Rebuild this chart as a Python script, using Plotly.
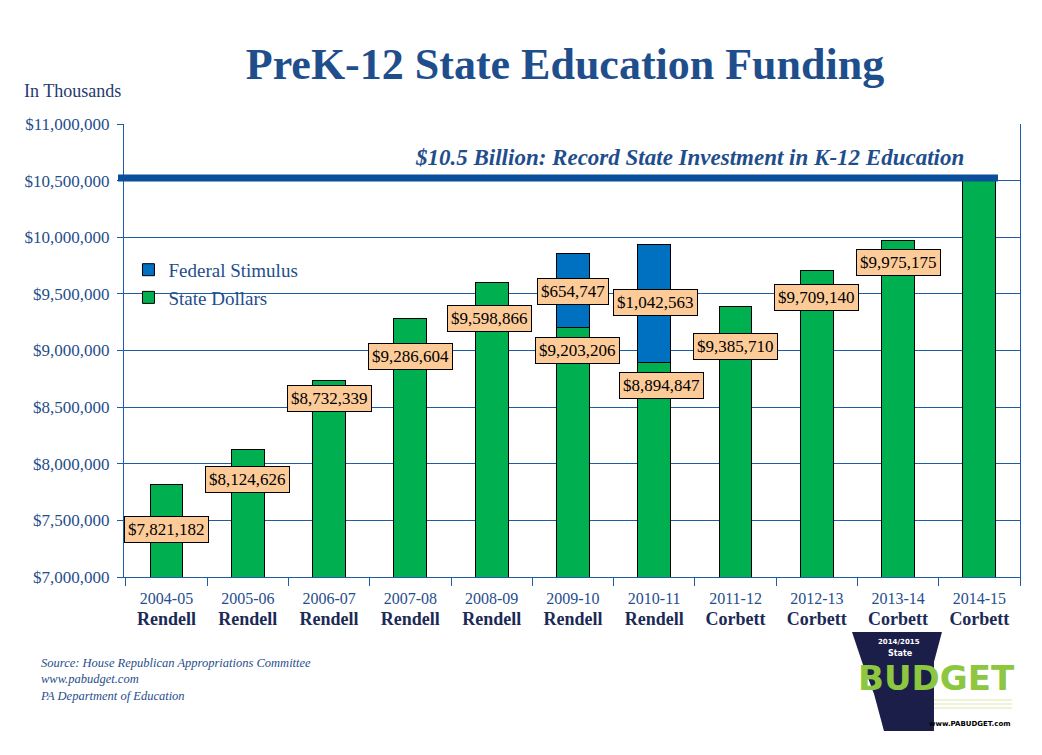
import plotly.graph_objects as go

# ---- data ----
years = ["2004-05", "2005-06", "2006-07", "2007-08", "2008-09", "2009-10",
         "2010-11", "2011-12", "2012-13", "2013-14", "2014-15"]
governors = ["Rendell", "Rendell", "Rendell", "Rendell", "Rendell", "Rendell",
             "Rendell", "Corbett", "Corbett", "Corbett", "Corbett"]
state_dollars = [7821182, 8124626, 8732339, 9286604, 9598866, 9203206,
                 8894847, 9385710, 9709140, 9975175, 10520000]
federal_stimulus = [0, 0, 0, 0, 0, 654747, 1042563, 0, 0, 0, 0]
record_level = 10523000

# label placement (layout only): offset below bar top, x pixel shifts
state_label_drop = [406000, 260000, 152000, 337000, 319000, 199000,
                    200000, 346000, 245000, 195000, None]
state_label_xshift = [0, 0, 0, 0, -2, 5, 7, 0, 0, 0, 0]
fed_label_drop = [None, None, None, None, None, 333000, 517000, None, None, None, None]
fed_label_xshift = [0, 0, 0, 0, 0, 0, 1, 0, 0, 0, 0]

SERIF = "Liberation Serif"
BLUE_TXT = "#1F4E8C"
NAVY = "#1B2A55"
GRID = "#1F5CA8"

# page has an 8px body margin; figure sized so it fills the 1042x755 window
W, H = 1034, 747

fig = go.Figure()
fig.add_trace(go.Bar(x=years, y=state_dollars, name="State Dollars", legendgroup="s",
                     marker=dict(color="#00B050", line=dict(color="black", width=1))))
fig.add_trace(go.Bar(x=years, y=federal_stimulus, name="Federal Stimulus", legendgroup="f",
                     marker=dict(color="#0070C0", line=dict(color="black", width=1))))


def fmt(v):
    return "${:,}".format(v)


annotations = []
for i, yr in enumerate(years):
    if state_label_drop[i] is not None:
        annotations.append(dict(
            x=yr, y=state_dollars[i] - state_label_drop[i], xref="x", yref="y",
            text=fmt(state_dollars[i]), showarrow=False, xshift=state_label_xshift[i],
            font=dict(family=SERIF, size=17, color="black"),
            bgcolor="#FCCB98", bordercolor="black", borderwidth=1, borderpad=3))
    if fed_label_drop[i] is not None:
        top = state_dollars[i] + federal_stimulus[i]
        annotations.append(dict(
            x=yr, y=top - fed_label_drop[i], xref="x", yref="y",
            text=fmt(federal_stimulus[i]), showarrow=False, xshift=fed_label_xshift[i],
            font=dict(family=SERIF, size=17, color="black"),
            bgcolor="#FCCB98", bordercolor="black", borderwidth=1, borderpad=3))

# record text
annotations.append(dict(
    x=0.6306, y=record_level, xref="paper", yref="y", yshift=21,
    xanchor="center", yanchor="middle",
    text="<i><b>$10.5 Billion: Record State Investment in K-12 Education</b></i>",
    showarrow=False, font=dict(family=SERIF, size=23, color=BLUE_TXT)))

# In Thousands
annotations.append(dict(x=-0.1138, y=1.073, xref="paper", yref="paper", xanchor="left",
                        yanchor="middle", text="In Thousands", showarrow=False,
                        font=dict(family=SERIF, size=18, color="#1F3A6E")))

# Source
annotations.append(dict(x=-0.096, y=-0.170, xref="paper", yref="paper", xanchor="left",
                        yanchor="top", align="left", showarrow=False,
                        text="<i>Source: House Republican Appropriations Committee<br>"
                             "www.pabudget.com<br>PA Department of Education</i>",
                        font=dict(family=SERIF, size=12.5, color=BLUE_TXT)))


# logo approximation (screen-pixel helpers -> paper coords)
def px(xp):
    return (xp - 124) / 896


def py(yp):
    return (577 - yp) / 453


keystone = [(852, 632), (942, 632), (934, 662), (934, 731), (884, 731),
            (874, 694), (862, 662)]
path = "M " + " L ".join(f"{px(a):.4f},{py(b):.4f}" for a, b in keystone) + " Z"
shapes = [
    dict(type="line", xref="paper", yref="y", x0=px(118), x1=px(998),
         y0=record_level, y1=record_level, line=dict(color="#0B4F9C", width=7)),
    dict(type="path", xref="paper", yref="paper", path=path,
         fillcolor="#1C1E4A", line=dict(width=0), layer="above"),
]
for yy in (700, 704, 708):
    shapes.append(dict(type="line", xref="paper", yref="paper", x0=px(934), x1=px(1012),
                       y0=py(yy), y1=py(yy), line=dict(color="#D9E7B0", width=1)))

annotations += [
    dict(x=px(899), y=py(642), xref="paper", yref="paper", showarrow=False,
         xanchor="center", yanchor="middle",
         text="<b>2014/2015</b>", font=dict(family="DejaVu Sans", size=7, color="white")),
    dict(x=px(900), y=py(653), xref="paper", yref="paper", showarrow=False,
         xanchor="center", yanchor="middle",
         text="<b>State</b>", font=dict(family="DejaVu Sans", size=8, color="white")),
    dict(x=px(936), y=py(678), xref="paper", yref="paper", showarrow=False,
         xanchor="center", yanchor="middle",
         text="<b>BUDGET</b>", font=dict(family="DejaVu Sans", size=34, color="#8DC63F")),
    dict(x=px(970), y=py(724), xref="paper", yref="paper", showarrow=False,
         xanchor="center", yanchor="middle",
         text="<b>www.PABUDGET.com</b>", font=dict(family="DejaVu Sans", size=7, color="black")),
]

ticktext = [f"<span style='color:{BLUE_TXT};font-size:16px'>{y}</span><br>"
            f"<b><span style='color:{NAVY};font-size:18px'>{g}</span></b>"
            for y, g in zip(years, governors)]

fig.update_layout(
    barmode="stack",
    bargap=0.595,
    width=W, height=H,
    margin=dict(l=116, r=22, t=116, b=H - 116 - 453, autoexpand=False),
    paper_bgcolor="white", plot_bgcolor="white",
    title=dict(text="<b>PreK-12 State Education Funding</b>", x=(565 - 8) / W,
               xanchor="center", y=1 - (64 - 8) / H, yanchor="middle",
               font=dict(family=SERIF, size=44, color=BLUE_TXT)),
    showlegend=True,
    legend=dict(x=0.005, y=0.72, xanchor="left", yanchor="top", traceorder="reversed",
                bgcolor="rgba(0,0,0,0)", font=dict(family=SERIF, size=19, color=BLUE_TXT),
                itemwidth=30, tracegroupgap=6),
    xaxis=dict(type="category", tickson="boundaries", ticks="outside", ticklen=8,
               tickcolor=GRID, showline=True, linecolor=GRID, linewidth=1,
               tickvals=years, ticktext=ticktext, showgrid=False, mirror=False,
               ticklabelstandoff=7, tickfont=dict(family=SERIF, size=16)),
    yaxis=dict(range=[7000000, 11000000], dtick=500000, tickprefix="$", tickformat=",",
               showgrid=True, gridcolor=GRID, gridwidth=1, showline=True, linecolor=GRID,
               mirror=True, ticks="outside", ticklen=6, tickcolor=GRID, ticklabelstandoff=4,
               tickfont=dict(family=SERIF, size=17, color=BLUE_TXT), zeroline=False),
    annotations=annotations,
    shapes=shapes,
)

fig.write_html("out.html")
